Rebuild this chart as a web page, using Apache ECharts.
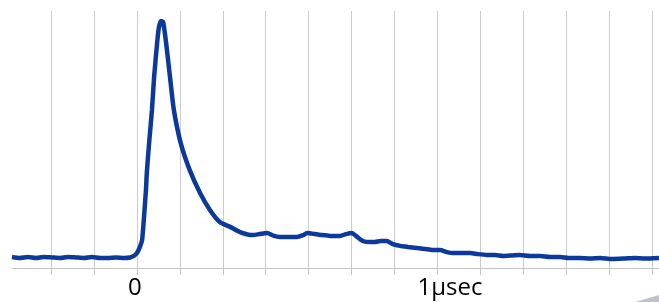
<!DOCTYPE html>
<html>
<head>
<meta charset="utf-8">
<title>Pulse trace</title>
<script src="https://cdn.jsdelivr.net/npm/echarts@6/dist/echarts.min.js"></script>
<style>
  html, body { margin: 0; padding: 0; background: #fff; }
  #chart { width: 659px; height: 302px; }
</style>
</head>
<body>
<div id="chart"></div>
<script>
// time in grid divisions (0 = trigger), signal in arbitrary units (0..100)
const timeValues = [
  -2.91, -2.73, -2.54, -2.35, -2.17, -1.98, -1.79, -1.61, -1.42, -1.23,
  -1.05, -0.86, -0.68, -0.49, -0.30, -0.16, -0.07, 0.00, 0.07, 0.12,
  0.16, 0.21, 0.23, 0.28, 0.35, 0.40, 0.47, 0.51, 0.56, 0.61,
  0.68, 0.77, 0.86, 1.02, 1.23, 1.47, 1.70, 1.93, 2.17,
  2.40, 2.70, 2.86, 3.03, 3.19, 3.33, 3.56, 3.73, 3.87, 3.96,
  4.15, 4.31, 4.50, 4.73, 4.87, 5.01, 5.10, 5.26, 5.43, 5.54,
  5.68, 5.82, 5.96, 6.13, 6.31, 6.52, 6.71, 6.89, 7.06, 7.22,
  7.36, 7.57, 7.76, 7.94, 8.15, 8.34, 8.53, 8.74, 8.92, 9.15,
  9.39, 9.62, 9.85, 10.06, 10.32, 10.55, 10.79, 11.06, 11.37, 11.60,
  11.83, 12.16
]
const signalValues = [
  4.3, 3.9, 4.3, 3.9, 4.3, 4.1, 3.9, 4.3, 4.1, 3.9,
  4.3, 3.9, 3.9, 4.1, 3.9, 4.1, 4.7, 5.8, 8.2, 10.9,
  18.7, 30.4, 37.0, 47.9, 61.5, 74.3, 87.5, 93.4, 96.1, 95.7,
  87.5, 74.3, 61.5, 48.6, 38.1, 29.2, 22.6, 17.9, 16.0,
  14.0, 12.8, 13.2, 13.6, 12.5, 12.1, 12.1, 12.1, 12.8, 13.6,
  13.2, 12.8, 12.5, 12.5, 13.2, 13.6, 12.5, 10.5, 10.1, 10.1,
  10.5, 10.5, 9.3, 8.6, 8.2, 7.8, 7.4, 7.0, 7.0, 6.2,
  5.8, 5.8, 5.8, 5.4, 5.1, 5.1, 4.7, 4.9, 5.1, 4.7,
  4.7, 4.3, 4.3, 3.9, 3.9, 3.7, 3.9, 3.5, 3.7, 3.9,
  3.7, 3.9
]
const labelTicks = [0, 7]
const labelTexts = ['0', '1µsec']

const chart = echarts.init(document.getElementById('chart'))
const seriesData = timeValues.map((t, i) => [t, signalValues[i]])

chart.setOption({
  animation: false,
  grid: { left: 12, right: 0, top: 11, bottom: 34 },
  xAxis: {
    type: 'value',
    min: -2.91,
    max: 12.16,
    minInterval: 1,
    maxInterval: 1,
    axisLine: { lineStyle: { color: '#c4c4c4', width: 1 } },
    axisTick: { show: true, length: 7, lineStyle: { color: '#c4c4c4' } },
    splitLine: {
      show: true,
      showMinLine: false,
      showMaxLine: false,
      lineStyle: { color: '#cccccc', width: 1 },
    },
    axisLabel: {
      margin: 8,
      showMinLabel: false,
      showMaxLabel: false,
      formatter: (v) => {
        const i = labelTicks.indexOf(Math.round(v * 100) / 100)
        if (i < 0)
          return ''
        return i === 0 ? '{z|' + labelTexts[i] + '}' : '{u|' + labelTexts[i] + '}'
      },
      rich: {
        z: { fontFamily: 'Open Sans', fontSize: 24, lineHeight: 24, color: '#000', padding: [0, 4, 0, 0] },
        u: { fontFamily: 'Open Sans', fontSize: 24, lineHeight: 24, color: '#000', padding: [0, 0, 0, 25] },
      },
    },
  },
  yAxis: {
    type: 'value',
    min: 0,
    max: 100,
    show: false,
    splitLine: { show: false },
  },
  series: [
    {
      type: 'line',
      data: seriesData,
      showSymbol: false,
      smooth: 0.2,
      lineStyle: { color: '#0b3a9c', width: 4.5 },
    },
  ],
  graphic: [
    {
      type: 'polygon',
      shape: { points: [[635, 302], [659, 295], [659, 302]] },
      style: { fill: '#bfc3c9' },
    },
  ],
})
</script>
</body>
</html>
